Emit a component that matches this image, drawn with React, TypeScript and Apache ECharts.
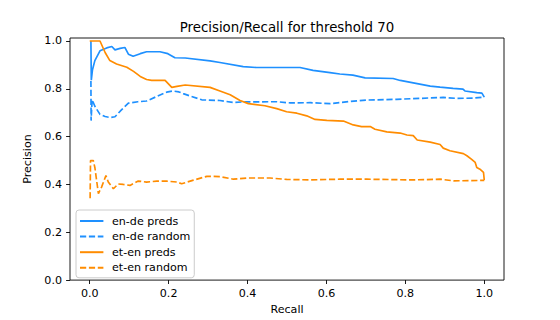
import React, { useEffect, useRef } from "react";
import * as echarts from "echarts";

const TITLE = "Precision/Recall for threshold 70";
const X_NAME = "Recall";
const Y_NAME = "Precision";
const TICKS = [0, 0.2, 0.4, 0.6, 0.8, 1.0];

const SERIES_NAMES = ["en-de preds", "en-de random", "et-en preds", "et-en random"];

const enDePredsRecall = [0.003, 0.004, 0.007, 0.013, 0.026, 0.043, 0.056, 0.064, 0.077, 0.089, 0.098, 0.110, 0.128, 0.144, 0.178, 0.198, 0.216, 0.242, 0.305, 0.330, 0.389, 0.423, 0.533, 0.566, 0.609, 0.634, 0.667, 0.698, 0.769, 0.787, 0.863, 0.888, 0.921, 0.946, 0.951, 0.981, 0.994, 1.0];
const enDePredsPrecision = [1.0, 0.836, 0.88, 0.918, 0.959, 0.971, 0.977, 0.963, 0.969, 0.973, 0.945, 0.936, 0.947, 0.955, 0.955, 0.947, 0.930, 0.929, 0.917, 0.910, 0.893, 0.889, 0.889, 0.877, 0.868, 0.862, 0.857, 0.846, 0.843, 0.835, 0.811, 0.807, 0.802, 0.799, 0.791, 0.784, 0.782, 0.765];

const enDeRandomRecall = [0.003, 0.0035, 0.006, 0.013, 0.026, 0.039, 0.052, 0.064, 0.081, 0.098, 0.122, 0.144, 0.170, 0.195, 0.211, 0.226, 0.237, 0.254, 0.284, 0.330, 0.363, 0.389, 0.474, 0.508, 0.559, 0.609, 0.660, 0.702, 0.778, 0.837, 0.896, 0.930, 0.972, 1.0];
const enDeRandomPrecision = [0.833, 0.667, 0.754, 0.727, 0.693, 0.684, 0.680, 0.683, 0.713, 0.740, 0.746, 0.749, 0.768, 0.786, 0.791, 0.787, 0.780, 0.770, 0.754, 0.751, 0.743, 0.745, 0.746, 0.741, 0.742, 0.738, 0.747, 0.753, 0.756, 0.760, 0.764, 0.760, 0.761, 0.765];

const etEnPredsRecall = [0.0, 0.026, 0.039, 0.051, 0.068, 0.094, 0.111, 0.128, 0.144, 0.157, 0.191, 0.208, 0.221, 0.242, 0.305, 0.330, 0.356, 0.381, 0.402, 0.444, 0.474, 0.499, 0.525, 0.550, 0.571, 0.601, 0.643, 0.668, 0.689, 0.711, 0.723, 0.753, 0.787, 0.804, 0.820, 0.830, 0.863, 0.888, 0.896, 0.913, 0.947, 0.956, 0.968, 0.977, 0.981, 0.989, 0.998, 1.0];
const etEnPredsPrecision = [1.0, 1.0, 0.952, 0.918, 0.904, 0.890, 0.873, 0.852, 0.839, 0.835, 0.835, 0.806, 0.810, 0.816, 0.806, 0.791, 0.775, 0.751, 0.738, 0.729, 0.717, 0.704, 0.698, 0.687, 0.672, 0.668, 0.665, 0.649, 0.642, 0.642, 0.631, 0.620, 0.615, 0.607, 0.604, 0.586, 0.577, 0.567, 0.552, 0.541, 0.529, 0.520, 0.505, 0.492, 0.471, 0.464, 0.451, 0.418];

const etEnRandomRecall = [0.001, 0.002, 0.009, 0.013, 0.022, 0.030, 0.041, 0.047, 0.060, 0.072, 0.085, 0.102, 0.123, 0.144, 0.170, 0.195, 0.221, 0.233, 0.263, 0.297, 0.330, 0.364, 0.398, 0.457, 0.499, 0.558, 0.634, 0.702, 0.820, 0.888, 0.922, 1.0];
const etEnRandomPrecision = [0.342, 0.500, 0.500, 0.471, 0.362, 0.389, 0.437, 0.410, 0.382, 0.402, 0.400, 0.396, 0.414, 0.410, 0.414, 0.414, 0.410, 0.403, 0.418, 0.434, 0.433, 0.422, 0.427, 0.427, 0.421, 0.419, 0.422, 0.422, 0.419, 0.422, 0.415, 0.417];

const zip = (xs: number[], ys: number[]) => xs.map((x, i) => [x, ys[i]]);

const FONT = "'DejaVu Sans', sans-serif";
const BLUE = "#1e90ff";
const ORANGE = "#ff8c00";
const DASH = [6.2, 2.7];

export default function App() {
  const ref = useRef<HTMLDivElement>(null);
  useEffect(() => {
    if (!ref.current) return;
    const chart = echarts.init(ref.current, undefined, { renderer: "svg" });
    const mk = (name: string, xs: number[], ys: number[], color: string, dashed: boolean) => ({
      name,
      type: "line",
      data: zip(xs, ys),
      symbol: "none",
      showSymbol: false,
      lineStyle: { color, width: 1.67, type: dashed ? DASH : "solid" },
      itemStyle: { color },
      z: 2,
    });
    chart.setOption({
      animation: false,
      textStyle: { fontFamily: FONT },
      grid: {
        left: 70,
        top: 38,
        width: 434,
        height: 247,
        show: true,
        borderColor: "#000",
        borderWidth: 0.9,
        backgroundColor: "transparent",
      },
      graphic: [
        {
          type: "text",
          x: 287,
          y: 27,
          style: {
            text: TITLE,
            fontFamily: FONT,
            fontSize: 13.33,
            fill: "#000",
            align: "center",
            verticalAlign: "middle",
          },
        },
      ],
      legend: {
        orient: "vertical",
        left: 76,
        top: 210,
        padding: [5, 4, 4, 3],
        itemWidth: 23.4,
        itemHeight: 12,
        itemGap: 3.6,
        borderColor: "#cccccc",
        borderWidth: 1,
        borderRadius: 3,
        backgroundColor: "rgba(255,255,255,0.8)",
        itemStyle: { color: "rgba(0,0,0,0)", borderColor: "rgba(0,0,0,0)", borderWidth: 0, opacity: 0 },
        textStyle: {
          fontFamily: FONT,
          fontSize: 11.1,
          color: "#000",
          lineHeight: 12,
          padding: [0, 0, 0, 3.6],
        },
        data: SERIES_NAMES,
      },
      xAxis: {
        type: "value",
        min: -0.05,
        max: 1.05,
        name: X_NAME,
        nameLocation: "middle",
        nameGap: 22,
        nameTextStyle: { fontFamily: FONT, fontSize: 11.1, color: "#000" },
        axisLine: { show: false },
        splitLine: { show: false },
        axisTick: {
          show: true,
          length: 3.9,
          lineStyle: { color: "#000", width: 0.9 },
          customValues: TICKS,
        },
        axisLabel: {
          margin: 8,
          fontFamily: FONT,
          fontSize: 11.1,
          color: "#000",
          customValues: TICKS,
          formatter: (v: number) => v.toFixed(1),
        },
      },
      yAxis: {
        type: "value",
        min: 0,
        max: 1.0125,
        name: Y_NAME,
        nameLocation: "middle",
        nameGap: 30,
        nameTextStyle: { fontFamily: FONT, fontSize: 11.1, color: "#000" },
        axisLine: { show: false, onZero: false },
        splitLine: { show: false },
        axisTick: {
          show: true,
          length: 3.9,
          lineStyle: { color: "#000", width: 0.9 },
          customValues: TICKS,
        },
        axisLabel: {
          margin: 8,
          fontFamily: FONT,
          fontSize: 11.1,
          color: "#000",
          customValues: TICKS,
          formatter: (v: number) => v.toFixed(1),
        },
      },
      series: [
        mk(SERIES_NAMES[0], enDePredsRecall, enDePredsPrecision, BLUE, false),
        mk(SERIES_NAMES[1], enDeRandomRecall, enDeRandomPrecision, BLUE, true),
        mk(SERIES_NAMES[2], etEnPredsRecall, etEnPredsPrecision, ORANGE, false),
        mk(SERIES_NAMES[3], etEnRandomRecall, etEnRandomPrecision, ORANGE, true),
      ],
    });
    return () => chart.dispose();
  }, []);
  return (
    <div
      ref={ref}
      style={{ position: "fixed", left: 0, top: 0, width: 560, height: 320, background: "#fff" }}
    />
  );
}
